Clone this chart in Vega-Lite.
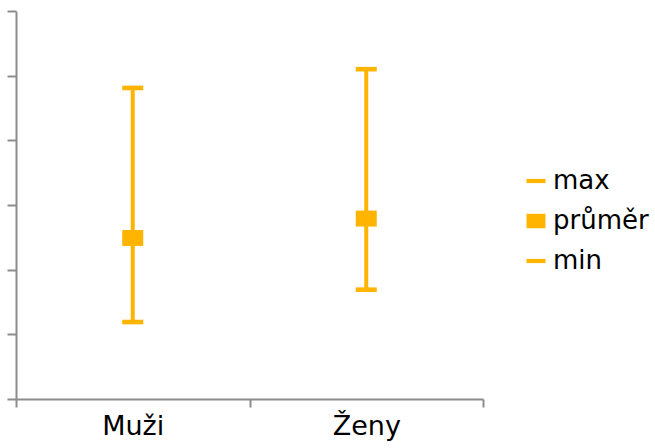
{
  "$schema": "https://vega.github.io/schema/vega-lite/v6.json",
  "autosize": {"type": "none"},
  "padding": {"left": 16, "top": 11, "right": 172, "bottom": 49},
  "width": 467,
  "height": 388,
  "background": "white",
  "config": {
    "view": {"stroke": null},
    "font": "DejaVu Sans",
    "axis": {"domainColor": "#8c8c8c", "tickColor": "#8c8c8c", "domainWidth": 2, "tickWidth": 2, "grid": false, "title": null}
  },
  "data": {
    "values": [
      {"skupina": "Muži", "max": 48.1, "průměr": 24.9, "min": 11.9},
      {"skupina": "Ženy", "max": 51.0, "průměr": 27.9, "min": 16.9}
    ]
  },
  "layer": [
    {
      "mark": {"type": "rule", "strokeWidth": 4, "color": "#FFB400"},
      "encoding": {
        "x": {"field": "skupina", "type": "nominal", "scale": {"paddingInner": 0, "paddingOuter": 0},
          "axis": {"labelAngle": 0, "tickBand": "extent", "tickSize": 8, "labelPadding": 6, "labelFontSize": 27, "labelColor": "#000000", "labelFont": "DejaVu Sans"}},
        "y": {"field": "min", "type": "quantitative", "scale": {"domain": [0, 60]},
          "axis": {"labels": false, "values": [0, 10, 20, 30, 40, 50, 60], "tickSize": 9}},
        "y2": {"field": "max"}
      }
    },
    {
      "transform": [{"fold": ["max", "průměr", "min"], "as": ["stat", "value"]}],
      "mark": {"type": "point", "filled": true, "opacity": 1, "strokeWidth": 0, "size": 441},
      "encoding": {
        "x": {"field": "skupina", "type": "nominal"},
        "y": {"field": "value", "type": "quantitative"},
        "color": {"field": "stat", "type": "nominal",
          "scale": {"domain": ["max", "průměr", "min"], "range": ["#FFB400", "#FFB400", "#FFB400"]},
          "legend": {"title": null, "orient": "none", "legendX": 507, "legendY": 157, "padding": 0,
            "symbolSize": 361, "symbolStrokeWidth": 0, "symbolOpacity": 1, "labelFontSize": 26, "labelFont": "DejaVu Sans",
            "labelColor": "#000000", "labelOffset": 4, "rowPadding": 14}},
        "shape": {"field": "stat", "type": "nominal",
          "scale": {"domain": ["max", "průměr", "min"],
            "range": ["M-1,-0.22L1,-0.22L1,0.22L-1,0.22Z", "M-1,-0.76L1,-0.76L1,0.76L-1,0.76Z", "M-1,-0.22L1,-0.22L1,0.22L-1,0.22Z"]}}
      }
    }
  ]
}
